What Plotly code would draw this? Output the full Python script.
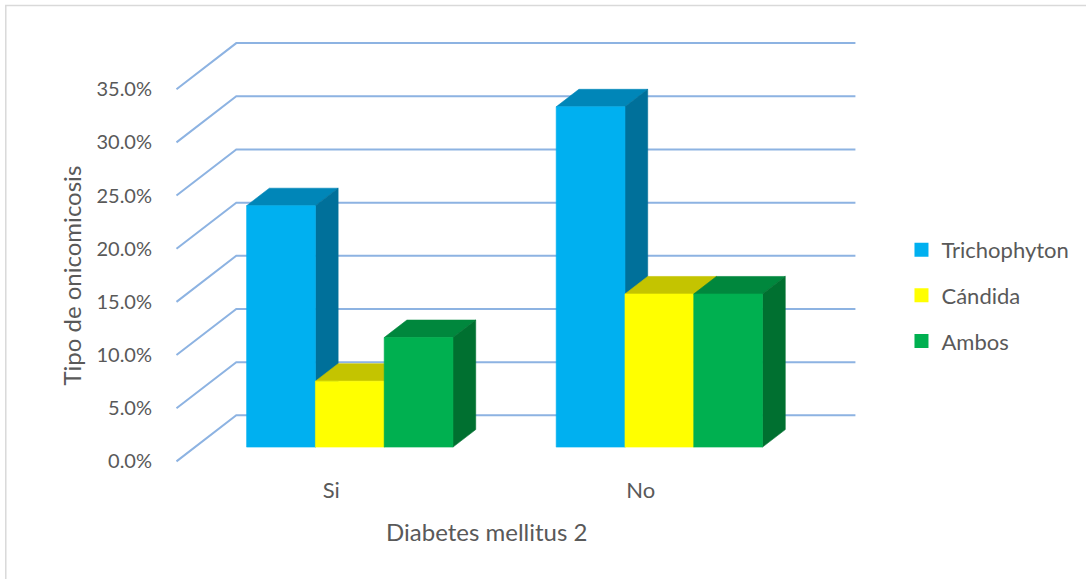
import plotly.graph_objects as go

# ---- data ----
categories = ["Si", "No"]
series_names = ["Trichophyton", "Cándida", "Ambos"]
trichophyton = [22.7, 32.0]
candida = [6.2, 14.4]
ambos = [10.3, 14.4]
y_ticks = [0, 5, 10, 15, 20, 25, 30, 35]
y_ticktext = ["0.0%", "5.0%", "10.0%", "15.0%", "20.0%", "25.0%", "30.0%", "35.0%"]
x_title = "Diabetes mellitus 2"
y_title = "Tipo de onicomicosis"

series_values = [trichophyton, candida, ambos]

# ---- styles ----
front_colors = ["#00B0F0", "#FFFF00", "#00B050"]
top_colors = ["#0086B8", "#C4C400", "#00873D"]
side_colors = ["#00709A", "#A3A300", "#007030"]
grid_color = "#8DB3E2"
text_color = "#595959"
FONT = "Lato"

# oblique 3D geometry (in axis units)
DX = 0.1932      # depth shift along x (category units)
DY = 4.33        # depth shift along y (percent units)
BAR_W = 0.2222   # bar width (category units)
F0, F1 = 0.31, 0.69  # bar depth span as fraction of wall depth

n_series = len(series_values)
x_idx = list(range(len(categories)))
x_lo, x_hi = x_idx[0] - 0.5, x_idx[-1] + 0.5

fig = go.Figure()

# gridlines on side wall + back wall
gx, gy = [], []
for v in y_ticks:
    gx += [x_lo, x_lo + DX, x_hi + DX, None]
    gy += [v, v + DY, v + DY, None]
fig.add_trace(go.Scatter(x=gx, y=gy, mode="lines", line=dict(color=grid_color, width=2),
                         hoverinfo="skip", showlegend=False))

def poly(xs, ys, color):
    fig.add_trace(go.Scatter(x=xs + [xs[0]], y=ys + [ys[0]], mode="lines", fill="toself",
                             fillcolor=color, line=dict(color=color, width=0.6),
                             hoverinfo="skip", showlegend=False))

for ci, c in enumerate(x_idx):
    for si in range(n_series):
        v = series_values[si][ci]
        xl = c + (si - (n_series - 1) / 2) * BAR_W - BAR_W / 2
        xr = xl + BAR_W
        b0, b1 = F0 * DY, F1 * DY
        # top face
        poly([xl + F0 * DX, xr + F0 * DX, xr + F1 * DX, xl + F1 * DX],
             [b0 + v, b0 + v, b1 + v, b1 + v], top_colors[si])
        # right side face
        poly([xr + F0 * DX, xr + F0 * DX, xr + F1 * DX, xr + F1 * DX],
             [b0, b0 + v, b1 + v, b1], side_colors[si])
        # front face
        poly([xl + F0 * DX, xr + F0 * DX, xr + F0 * DX, xl + F0 * DX],
             [b0, b0, b0 + v, b0 + v], front_colors[si])

# legend entries
for si, name in enumerate(series_names):
    fig.add_trace(go.Scatter(x=[None], y=[None], mode="markers", name=name,
                             marker=dict(symbol="square", size=14, color=front_colors[si]),
                             legendgroup=name))

fig.update_layout(
    width=1086, height=579,
    margin=dict(l=160.5, r=211.4, t=35.8, b=107.4, pad=0),
    paper_bgcolor="white", plot_bgcolor="white",
    font=dict(family=FONT, size=20, color=text_color),
    showlegend=True,
    legend=dict(x=1.04, y=0.405, xanchor="left", yanchor="middle",
                font=dict(family=FONT, size=22, color=text_color),
                tracegroupgap=14, itemwidth=30, bgcolor="rgba(0,0,0,0)"),
    xaxis=dict(range=[x_lo - 0.05, x_hi + DX + 0.0568], tickvals=x_idx, ticktext=categories,
               showgrid=False, zeroline=False, showline=False, ticks="",
               ticklabelstandoff=3, tickfont=dict(family=FONT, size=22, color=text_color)),
    yaxis=dict(range=[-1, 40], tickvals=y_ticks, ticktext=y_ticktext,
               showgrid=False, zeroline=False, showline=False, ticks="",
               ticklabelstandoff=8, tickfont=dict(family=FONT, size=20, color=text_color)),
    annotations=[
        dict(text=x_title, xref="x", yref="paper", x=(x_lo + x_hi) / 2, y=-0.136,
             xanchor="center", yanchor="middle", showarrow=False,
             font=dict(family=FONT, size=24, color=text_color)),
        dict(text=y_title, xref="paper", yref="y", x=-0.126, y=35 / 2,
             xanchor="center", yanchor="middle", textangle=-90, showarrow=False,
             font=dict(family=FONT, size=24, color=text_color)),
    ],
    shapes=[dict(type="rect", xref="paper", yref="paper", x0=-0.218, x1=1.4, y0=-0.5, y1=1.07,
                 line=dict(color="#D9D9D9", width=1.5), fillcolor="rgba(0,0,0,0)", layer="below")],
)

fig.write_html("out.html")
